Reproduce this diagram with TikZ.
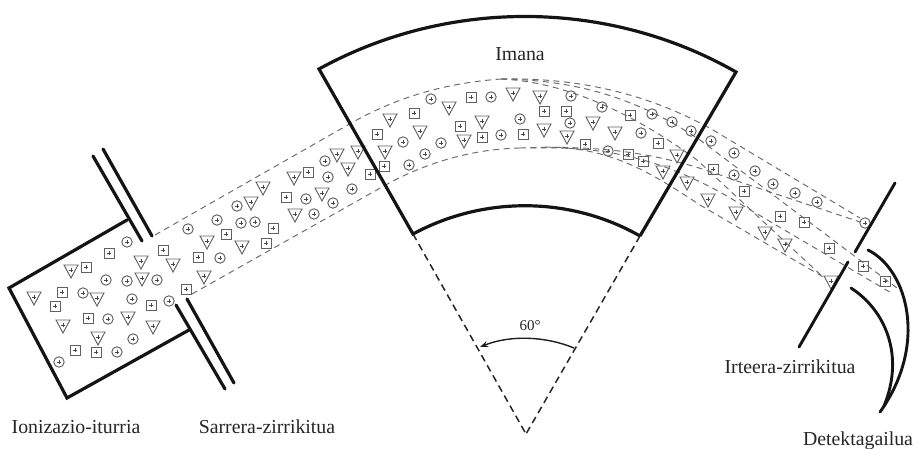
\documentclass[tikz,border=0pt]{standalone}
\usepackage{fontspec}
\setmainfont{Liberation Serif}
\usetikzlibrary{arrows.meta}
\tikzset{
  x=1pt,y=-1pt,
  wall/.style={line width=3.2pt,line cap=round,line join=miter,black!92},
  slit/.style={line width=2.9pt,line cap=round,black!92},
  beam/.style={line width=0.95pt,black!58,dash pattern=on 6pt off 4.5pt},
  guide/.style={line width=1.5pt,black!85,dash pattern=on 7pt off 4.6pt},
  ptc/.style={line width=0.95pt,black!62},
  lab/.style={anchor=base,inner sep=0pt,black!85,font=\fontsize{19.8}{22}\selectfont},
  plus/.pic={\draw[line width=0.6pt,black!72] (-2.3,0)--(2.3,0) (0,-2.3)--(0,2.3);}
}
\begin{document}
\begin{tikzpicture}
\useasboundingbox[fill=white] (0,0) rectangle (920,449);
% particles
\foreach \px/\py in {127/242,106/280,127/281,157/280,83/293,132/299,169/301,108/319,133/339,117/352,59/362,188/229,220/258,217/220,237/206,241/223,255/222,306/199,314/214,333/203,328/177,325/161,352/189,409/165,425/154,441/143,403/142,431/99,491/97,571/96,602/107,501/135,520/119,570/123,652/114,672/122,691/131,711/141,734/153,641/133,608/151,734/175,755/171,773/184,795/193,817/202,865/223}{
  \draw[ptc] (\px,\py) circle[radius=5.2pt];
  \pic at (\px,\py) {plus};
}
\foreach \px/\py in {109/253,86/267,163/250,198/257,226/234,186/289,151/305,62/292,55/306,88/318,75/350,96/352,273/228,266/243,286/197,308/172,370/174,377/134,384/166,414/113,460/126,471/97,482/137,523/134,544/111,566/111,585/144,630/115,658/143,628/154,643/161,713/169,744/191,780/216,804/222,829/248,863/266,885/281}{
  \draw[ptc] (\px-5,\py-5) rectangle (\px+5,\py+5);
  \pic at (\px,\py) {plus};
}
\foreach \px/\py in {71/271,141/262,173/265,207/242,242/247,204/277,142/279,97/299,34/298,63/326,128/318,153/327,98/338,251/203,263/188,294/178,295/215,322/194,337/155,348/169,358/152,385/152,390/120,449/108,420/132,464/141,482/122,513/94,540/97,544/130,567/137,593/123,615/133,677/156,663/172,687/183,708/200,736/213,765/233,785/245,831/282}{
  \draw[ptc,line join=miter] (\px-7,\py-6) -- (\px+7,\py-6) -- (\px,\py+7) -- cycle;
  \pic at (\px,\py-1) {plus};
}
% beam edges
\draw[beam] (155,235) -- (353,122) .. controls (400,96) and (447,83) .. (501,79);
\draw[beam] (501,79) .. controls (590,77) and (660,100) .. (713,130) -- (860,218);
\draw[beam] (501,79) .. controls (580,80) and (640,100) .. (700,140) -- (897,288);
\draw[beam] (501,79) .. controls (570,82) and (640,118) .. (697,160) -- (823,277);
\draw[beam] (192,294) -- (382,187) .. controls (424,163) and (472,149) .. (520,148);
\draw[beam] (520,148) .. controls (600,145) and (660,152) .. (734,180) -- (860,222);
\draw[beam] (530,148) .. controls (610,146) and (660,160) .. (720,192) -- (893,294);
\draw[beam] (545,147) .. controls (610,147) and (650,172) .. (700,205) -- (825,278);
% source and slits
\draw[wall] (127,220) -- (9,288) -- (67,398) -- (189,330);
\draw[wall] (93,156) -- (142,241);
\draw[wall] (103,149) -- (152,236);
\draw[wall] (176,305) -- (225,389);
\draw[wall] (187,299) -- (234,383);
% magnet
\draw[wall,line cap=butt,line join=miter] (640,236) -- (736,72) .. controls (608,-1) and (448,-2) .. (319,69) -- (413,234) .. controls (483,196) and (570,196) .. (640,236);
% geometry
\coordinate (apex) at (526,434);
\draw[guide] (413,234) -- (apex);
\draw[guide] (640,236) -- (apex);
\draw[line width=1.4pt,black!88,-{Stealth[length=8pt,width=6pt]}] (574,348) .. controls (545,336) and (510,335) .. (480,347);
% exit slit and detector
\draw[slit] (895,183) -- (855,252);
\draw[slit] (848,262) -- (799,347);
\draw[slit] (868,250) .. controls (908,270) and (928,345) .. (880,412);
\draw[slit] (851,288) .. controls (885,310) and (905,355) .. (884,406);
% labels
\node[lab] (imana) at (520,61) {Imana};
\node[lab] (source) at (76,433) {Ionizazio-iturria};
\node[lab] (entry) at (267,433) {Sarrera-zirrikitua};
\node[lab] (exit) at (790,373) {Irteera-zirrikitua};
\node[lab] (detector) at (858,445) {Detektagailua};
\node[lab,font=\fontsize{15}{17}\selectfont] (angle) at (530,330) {60°};
\end{tikzpicture}
\end{document}
